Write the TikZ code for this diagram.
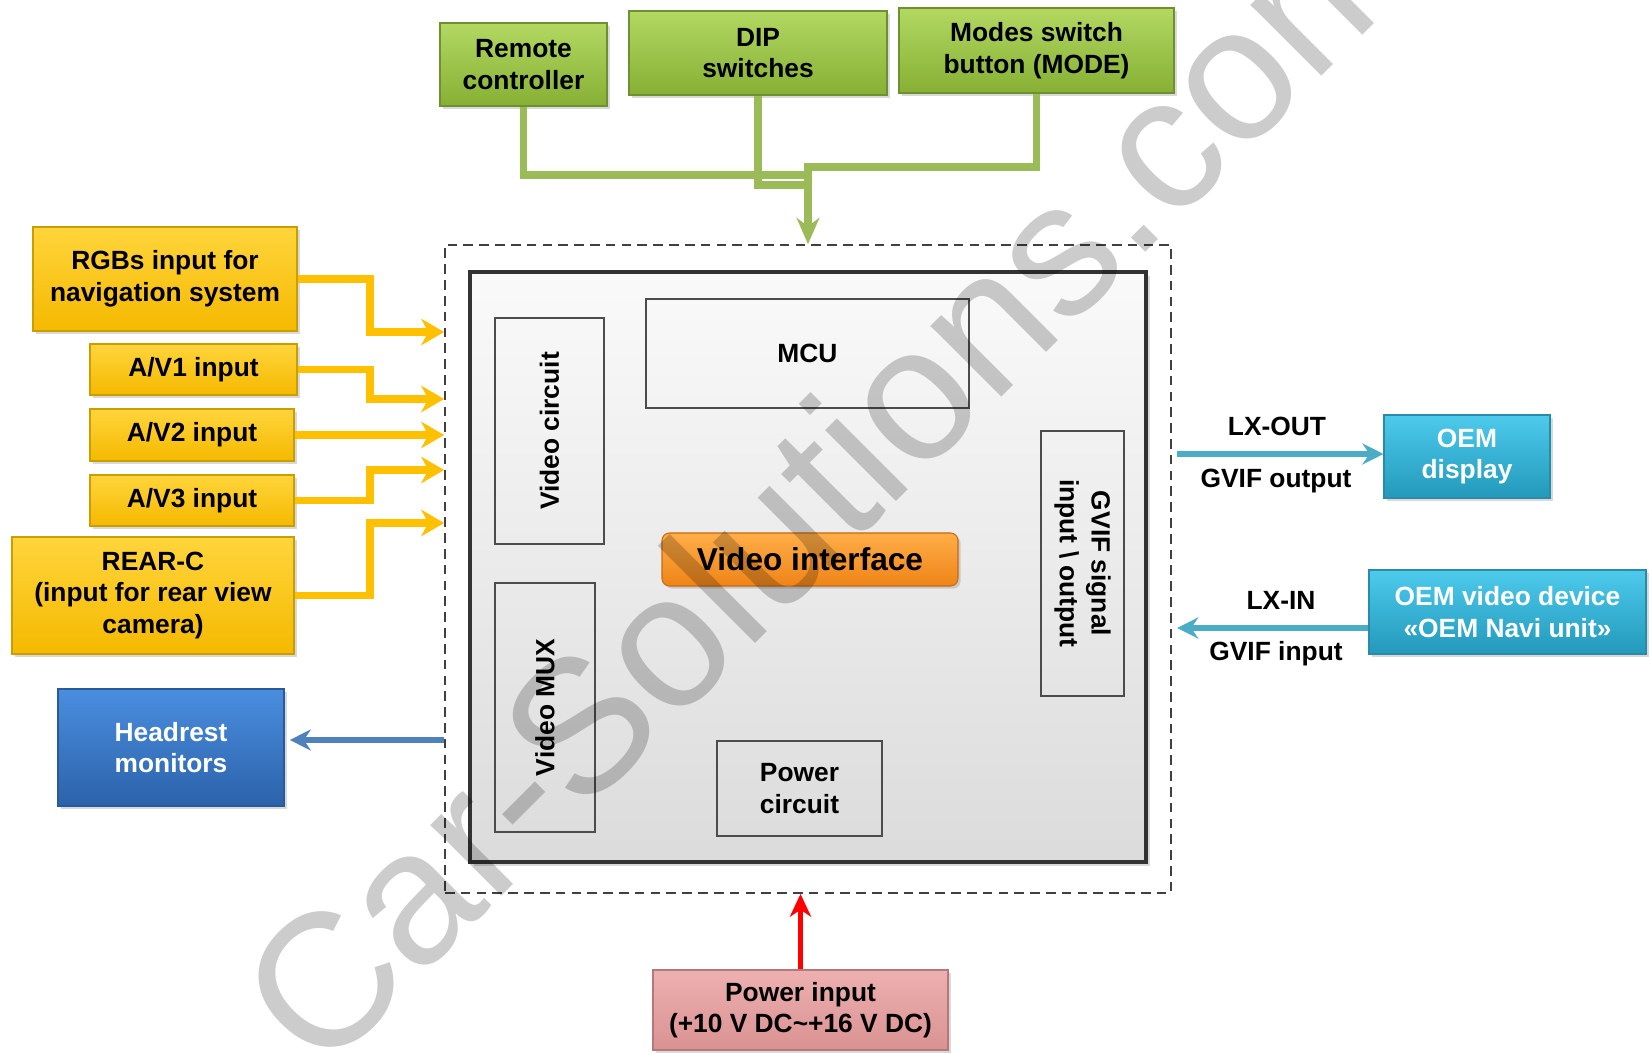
\documentclass[tikz,border=0pt]{standalone}
\usepackage{fontspec}
\setmainfont{Liberation Sans}
\usepackage{xcolor}
\usetikzlibrary{arrows.meta,shadows}

\definecolor{ctrlgreen}{HTML}{9BBB59}
\definecolor{greentop}{HTML}{B2D862}
\definecolor{greenbot}{HTML}{86B034}
\definecolor{greenline}{HTML}{6E9030}
\definecolor{ingold}{HTML}{FFC000}
\definecolor{goldtop}{HTML}{FFD53C}
\definecolor{goldbot}{HTML}{F5B900}
\definecolor{goldline}{HTML}{C89E00}
\definecolor{hrblue}{HTML}{4F81BD}
\definecolor{bluetop}{HTML}{4A8EDF}
\definecolor{bluebot}{HTML}{2C62AA}
\definecolor{blueline}{HTML}{2B5A98}
\definecolor{oemcyan}{HTML}{4BACC6}
\definecolor{cyantop}{HTML}{4CCAEC}
\definecolor{cyanbot}{HTML}{2399BB}
\definecolor{cyanline}{HTML}{2A8BA8}
\definecolor{pinktop}{HTML}{EDB0B0}
\definecolor{pinkbot}{HTML}{DA9292}
\definecolor{pinkline}{HTML}{B47878}
\definecolor{orangetop}{HTML}{FFAE48}
\definecolor{orangebot}{HTML}{EE8418}
\definecolor{orangeline}{HTML}{C86A10}

\begin{document}
\begin{tikzpicture}[
  font=\fontsize{15}{18}\selectfont\bfseries,
  panel/.style={align=center, inner sep=0pt, line width=0.6pt,
    drop shadow={opacity=0.3, shadow xshift=1.5pt, shadow yshift=-1.5pt}},
  ctrlbox/.style={panel, draw=greenline, top color=greentop, bottom color=greenbot},
  inbox/.style={panel, draw=goldline, top color=goldtop, bottom color=goldbot},
  outbox/.style={panel, draw=blueline, top color=bluetop, bottom color=bluebot, text=white},
  oembox/.style={panel, draw=cyanline, top color=cyantop, bottom color=cyanbot, text=white},
  pwrbox/.style={panel, draw=pinkline, top color=pinktop, bottom color=pinkbot},
  part/.style={draw=black!70, line width=0.8pt, align=center, inner sep=0pt},
  ctrlline/.style={draw=ctrlgreen, line width=4.5pt},
  goldarrow/.style={draw=ingold, line width=4pt, -{Stealth[length=13pt,width=15pt,inset=4pt]}},
  hrarrow/.style={draw=hrblue, line width=3pt, -{Stealth[length=12pt,width=12pt,inset=4pt]}},
  oemarrow/.style={draw=oemcyan, line width=3.2pt, -{Stealth[length=12pt,width=12pt,inset=4pt]}},
  pwrarrow/.style={draw=red, line width=3.2pt, -{Stealth[length=13pt,width=12pt,inset=4pt]}},
  watermark/.style={font=\fontsize{108}{108}\selectfont\mdseries, text=black, text opacity=0.2,
    rotate=45, anchor=base, inner sep=0pt}
]
\useasboundingbox (0,0) rectangle (32.98,21.06);

% Frame and main unit
\node[draw=black!75, dash pattern=on 5.5pt off 3.5pt, line width=1pt, inner sep=0pt,
  minimum width=14.52cm, minimum height=12.96cm] (board) at (16.16,9.68) {};
\node[draw=black!80, line width=2.2pt, top color=gray!4, bottom color=gray!28,
  minimum width=13.52cm, minimum height=11.80cm,
  drop shadow={opacity=0.3, shadow xshift=2pt, shadow yshift=-2pt}] (unit) at (16.16,9.72) {};

% Blocks inside the unit
\node[part, rotate=90, minimum width=4.52cm, minimum height=2.18cm] (vcirc) at (10.99,12.44) {Video circuit};
\node[part, minimum width=6.46cm, minimum height=2.18cm] (mcu) at (16.15,13.99) {MCU};
\node[part, rotate=90, minimum width=4.98cm, minimum height=2.00cm] (vmux) at (10.90,6.91) {Video MUX};
\node[part, rotate=-90, minimum width=5.30cm, minimum height=1.66cm] (gvif) at (21.65,9.79) {GVIF signal\\input \textbackslash{} output};
\node[part, minimum width=3.30cm, minimum height=1.90cm] (pcirc) at (15.99,5.29) {Power\\circuit};
\node[panel, draw=orangeline, top color=orangetop, bottom color=orangebot, rounded corners=0.15cm,
  minimum width=5.92cm, minimum height=1.06cm, font=\fontsize{18}{21}\selectfont\bfseries] (vif) at (16.20,9.87) {Video interface};

% Controls
\node[ctrlbox, minimum width=3.34cm, minimum height=1.66cm] (rc) at (10.47,19.77) {Remote\\controller};
\node[ctrlbox, minimum width=5.16cm, minimum height=1.68cm] (dip) at (15.16,20.00) {DIP\\switches};
\node[ctrlbox, minimum width=5.50cm, minimum height=1.70cm] (modes) at (20.73,20.05) {Modes switch\\button (MODE)};

\draw[ctrlline] (rc.south) |- (board.north |- 0,17.56);
\draw[ctrlline] (dip.south) |- (board.north |- 0,17.36);
\draw[ctrlline, -{Stealth[length=15pt,width=13pt,inset=5pt]}] (modes.south) |- (board.north |- 0,17.72) -- (board.north);

% Video inputs
\node[inbox, minimum width=5.28cm, minimum height=2.08cm] (rgb) at (3.30,15.48) {RGBs input for\\navigation system};
\node[inbox, minimum width=4.14cm, minimum height=1.02cm] (av1) at (3.87,13.67) {A/V1 input};
\node[inbox, minimum width=4.08cm, minimum height=1.04cm] (av2) at (3.84,12.36) {A/V2 input};
\node[inbox, minimum width=4.08cm, minimum height=1.02cm] (av3) at (3.84,11.05) {A/V3 input};
\node[inbox, minimum width=5.64cm, minimum height=2.34cm] (rearc) at (3.06,9.15) {REAR-C\\(input for rear view\\camera)};

\coordinate (bend) at (7.40,0);
\foreach \src/\dst in {rgb/14.42, av1/13.08, av3/11.66, rearc/10.60}
  \draw[goldarrow] (\src.east) -- (\src.east -| bend) |- (board.west |- 0,\dst);
\draw[goldarrow] (av2.east) -- (board.west |- av2.east);

% Headrest output
\node[outbox, minimum width=4.52cm, minimum height=2.34cm] (hm) at (3.42,6.11) {Headrest\\monitors};
\draw[hrarrow, shorten >=3pt] (board.west |- 0,6.26) -- (hm.east |- 0,6.26);

% OEM side
\node[oembox, minimum width=3.32cm, minimum height=1.66cm] (oemd) at (29.34,11.93) {OEM\\display};
\node[oembox, minimum width=5.54cm, minimum height=1.68cm] (oemv) at (30.15,8.82) {OEM video device\\«OEM Navi unit»};
\draw[oemarrow, shorten <=3pt] (board.east |- 0,11.98) -- (oemd.west |- 0,11.98);
\draw[oemarrow, shorten >=3pt] (oemv.west |- 0,8.50) -- (board.east |- 0,8.50);
\node (lxout) at (25.54,12.54) {LX-OUT};
\node (gvifout) at (25.52,11.44) {GVIF output};
\node (lxin) at (25.62,9.06) {LX-IN};
\node (gvifin) at (25.52,7.98) {GVIF input};

% Power
\node[pwrbox, minimum width=5.90cm, minimum height=1.60cm] (pin) at (16.01,0.86) {Power input\\(+10 V DC\textasciitilde+16 V DC)};
\draw[pwrarrow] (pin.north) -- (pin.north |- board.south);

% Watermark
\node[watermark] (wm) at (17.46,10.55) {Car-Solutions.com};
\end{tikzpicture}
\end{document}
